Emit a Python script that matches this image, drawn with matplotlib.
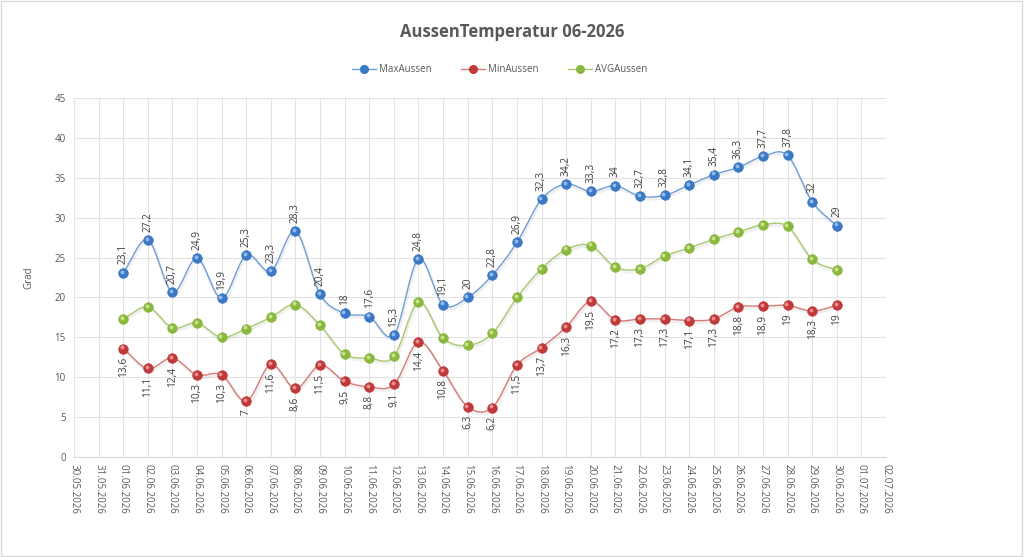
import numpy as np
import matplotlib
matplotlib.use("Agg")
import matplotlib.pyplot as plt
import matplotlib.dates as mdates
import matplotlib.transforms as mtrans
from datetime import date, timedelta

plt.rcParams['font.family'] = ['Open Sans', 'DejaVu Sans']

title = "AussenTemperatur 06-2026"
ylabel = "Grad"
days = [date(2026, 6, d) for d in range(1, 31)]
max_aussen = [23.1, 27.2, 20.7, 24.9, 19.9, 25.3, 23.3, 28.3, 20.4, 18, 17.6, 15.3, 24.8, 19.1, 20,
              22.8, 26.9, 32.3, 34.2, 33.3, 34, 32.7, 32.8, 34.1, 35.4, 36.3, 37.7, 37.8, 32, 29]
min_aussen = [13.6, 11.1, 12.4, 10.3, 10.3, 7, 11.6, 8.6, 11.5, 9.5, 8.8, 9.1, 14.4, 10.8, 6.3,
              6.2, 11.5, 13.7, 16.3, 19.5, 17.2, 17.3, 17.3, 17.1, 17.3, 18.8, 18.9, 19, 18.3, 19]
avg_aussen = [17.3, 18.8, 16.2, 16.8, 15.0, 16.1, 17.5, 19.1, 16.5, 12.9, 12.4, 12.6, 19.4, 14.9, 14.0,
              15.5, 20.0, 23.6, 26.0, 26.5, 23.8, 23.6, 25.2, 26.2, 27.3, 28.2, 29.1, 28.9, 24.8, 23.4]
series_names = ["MaxAussen", "MinAussen", "AVGAussen"]
x_start, x_end = date(2026, 5, 30), date(2026, 7, 2)


def smooth(xs, ys, n=20, tension=0.5):
    xs = np.asarray(xs, float); ys = np.asarray(ys, float)
    px = np.concatenate([[2 * xs[0] - xs[1]], xs, [2 * xs[-1] - xs[-2]]])
    py = np.concatenate([[2 * ys[0] - ys[1]], ys, [2 * ys[-1] - ys[-2]]])
    ox, oy = [], []
    t = np.linspace(0, 1, n, endpoint=False)
    for i in range(1, len(px) - 2):
        p0, p1, p2, p3 = py[i - 1], py[i], py[i + 1], py[i + 2]
        m1 = tension * (p2 - p0)
        m2 = tension * (p3 - p1)
        h00 = 2 * t**3 - 3 * t**2 + 1; h10 = t**3 - 2 * t**2 + t
        h01 = -2 * t**3 + 3 * t**2; h11 = t**3 - t**2
        oy.extend(h00 * p1 + h10 * m1 + h01 * p2 + h11 * m2)
        ox.extend(px[i] + t * (px[i + 1] - px[i]))
    ox.append(xs[-1]); oy.append(ys[-1])
    return np.array(ox), np.array(oy)


fig = plt.figure(figsize=(10.24, 5.57), dpi=100)
fig.patch.set_facecolor('white')
ax = fig.add_axes([74 / 1024, 1 - 457 / 557, (886 - 74) / 1024, (457 - 98) / 557])

xnum = mdates.date2num(days)
colors = {"MaxAussen": ("#6f9fd8", "#3a78c5", "#9cc0ec"),
          "MinAussen": ("#d77b79", "#c0393a", "#ec9a98"),
          "AVGAussen": ("#a9c96e", "#8ab83c", "#cfe6a0")}
data = {"MaxAussen": max_aussen, "MinAussen": min_aussen, "AVGAussen": avg_aussen}

hl = mtrans.offset_copy(ax.transData, fig=fig, x=-1.2, y=1.2, units='dots')
sh = mtrans.offset_copy(ax.transData, fig=fig, x=1.0, y=-2.0, units='dots')
for name in series_names:
    lc, mc, hc = colors[name]
    sx, sy = smooth(xnum, data[name])
    ax.plot(sx, sy, color='#000000', alpha=0.06, lw=2.2, transform=sh, zorder=2)
    ax.plot(sx, sy, color=lc, lw=1.0, zorder=3)
    ax.plot(xnum, data[name], 'o', ms=7, color=mc, mec=mc, mew=0.4, zorder=4)
    ax.plot(xnum, data[name], 'o', ms=2.8, color=hc, mec='none', alpha=0.9, transform=hl, zorder=5)

for x, v in zip(xnum, max_aussen):
    ax.annotate(f"{v:g}".replace('.', ','), (x, v), xytext=(0, 6), textcoords='offset points',
                rotation=90, ha='center', va='bottom', fontsize=7.3, color='#404040', zorder=6)
for x, v in zip(xnum, min_aussen):
    ax.annotate(f"{v:g}".replace('.', ','), (x, v), xytext=(0, -6), textcoords='offset points',
                rotation=90, ha='center', va='top', fontsize=7.3, color='#404040', zorder=6)

ax.set_xlim(mdates.date2num(x_start), mdates.date2num(x_end))
ax.set_ylim(0, 45)
ax.set_yticks(np.arange(0, 46, 5))
ticks = [x_start + timedelta(days=i) for i in range((x_end - x_start).days + 1)]
ax.set_xticks(mdates.date2num(ticks))
ax.set_xticklabels([d.strftime("%d.%m.%Y") for d in ticks], rotation=270, fontsize=7, color='#595959')
ax.tick_params(axis='y', labelsize=7, labelcolor='#595959', length=0, pad=6)
ax.tick_params(axis='x', length=0, pad=5)
ax.grid(True, color='#e2e2e2', lw=0.8)
ax.set_axisbelow(True)
for s in ['top', 'right', 'left']:
    ax.spines[s].set_visible(False)
ax.spines['bottom'].set_color('#d9d9d9')
ax.set_ylabel(ylabel, fontsize=7, color='#595959')
ax.yaxis.set_label_coords((34 - 74) / 812, 0.5)

fig.text(0.5, 1 - 32 / 557, title, ha='center', va='center', fontsize=12, fontweight='bold', color='#595959')

handles = []
for name in series_names:
    lc, mc, hc = colors[name]
    h, = ax.plot([], [], '-o', color=lc, mfc=mc, mec=mc, ms=5.5, lw=1.0)
    handles.append(h)
fig.legend(handles, series_names, loc='center', bbox_to_anchor=(0.488, 1 - 70 / 557), ncol=3,
           frameon=False, fontsize=7, labelcolor='#595959', columnspacing=3.0, handlelength=2.5,
           handletextpad=0.3)

fig.add_artist(plt.Rectangle((0.001, 0.001), 0.997, 0.997, transform=fig.transFigure,
                             fill=False, ec='#d9d9d9', lw=1))
fig.savefig("out.png", dpi=100, facecolor='white')
